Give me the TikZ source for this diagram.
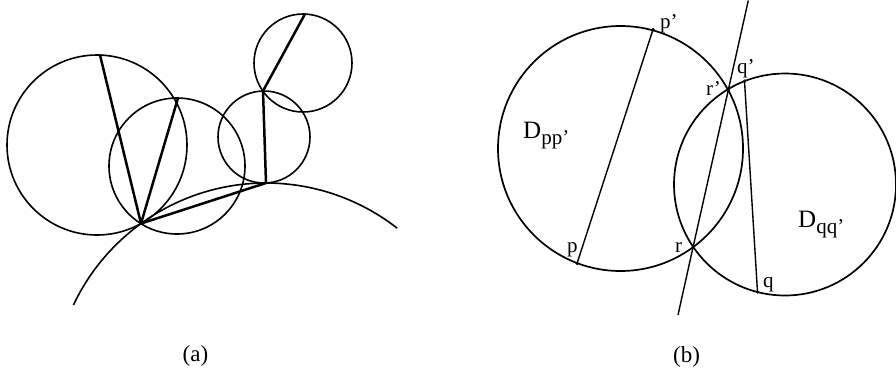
\documentclass[tikz,border=0pt]{standalone}
\usepackage{fontspec}
\setmainfont{Liberation Serif}
\begin{document}
\begin{tikzpicture}[x=1pt,y=-1pt,
  circa/.style={line width=1.6pt},
  chorda/.style={line width=2.5pt, line cap=round},
  circb/.style={line width=1.7pt},
  lineb/.style={line width=1.4pt},
  ptdot/.style={fill, circle, inner sep=0pt, minimum size=3.5pt},
  lbl/.style={font=\fontsize{21}{21}\selectfont, inner sep=0pt, anchor=base west},
  dlbl/.style={font=\fontsize{25}{25}\selectfont, inner sep=0pt, anchor=base west},
  captxt/.style={font=\fontsize{23}{23}\selectfont, inner sep=0pt}]
\useasboundingbox (0,0) rectangle (896,373);
% ---------- panel (a) ----------
\coordinate (O) at (266,396);
\coordinate (P0) at (141,223.5);
\coordinate (P1) at (266,183);
\coordinate (T1) at (100,55);
\coordinate (T2) at (178,98);
\coordinate (T3) at (263,91);
\coordinate (T4) at (305,14);
\coordinate (C1) at (97,145);
\coordinate (C2) at (177,166);
\coordinate (C3) at (264,137);
\coordinate (C4) at (303,63);
\draw[circa] (O) ++(205.3:213) arc[start angle=205.3, end angle=308, radius=213];
\draw[circa] (C1) circle[radius=90];
\draw[circa] (C2) circle[radius=68];
\draw[circa] (C3) circle[radius=46];
\draw[circa] (C4) circle[radius=49];
\draw[chorda] (P0) -- (T1);
\draw[chorda] (P0) -- (T2);
\draw[chorda] (P0) -- (P1);
\draw[chorda] (P1) -- (T3);
\draw[chorda] (T3) -- (T4);
\node[captxt] (capa) at (195.5,355.5) {(a)};
% ---------- panel (b) ----------
\coordinate (CL) at (620.5,148.5);
\coordinate (CR) at (785,184.5);
\draw[circb] (CL) circle[radius=122.5];
\draw[circb] (CR) circle[radius=111];
\node[ptdot] (pp) at (653,29.5) {};
\node[ptdot] (p) at (577,263.5) {};
\node[ptdot] (qq) at (744.5,81) {};
\node[ptdot] (q) at (757.5,292) {};
\node[ptdot] (rr) at (728.3,90) {};
\node[ptdot] (r) at (693.3,246) {};
\coordinate (L1) at (748.3,0.5);
\coordinate (L2) at (678,315);
\draw[lineb] (p.center) -- (pp.center);
\draw[lineb] (q.center) -- (qq.center);
\draw[lineb] (L2) -- (r.center) -- (rr.center) -- (L1);
\node[lbl] (lpp) at (660,28) {p'};
\node[lbl] (lqq) at (737,73) {q'};
\node[lbl] (lrr) at (706,95) {r'};
\node[lbl] (lp) at (567,252) {p};
\node[lbl] (lr) at (675,252) {r};
\node[lbl] (lq) at (763,287) {q};
\node[dlbl] (dpp) at (523,138) {D\raisebox{-6pt}{\fontsize{21}{21}\selectfont pp'}};
\node[dlbl] (dqq) at (798,227) {D\raisebox{-6pt}{\fontsize{21}{21}\selectfont qq'}};
\node[captxt] (capb) at (686.5,357) {(b)};
\end{tikzpicture}
\end{document}
